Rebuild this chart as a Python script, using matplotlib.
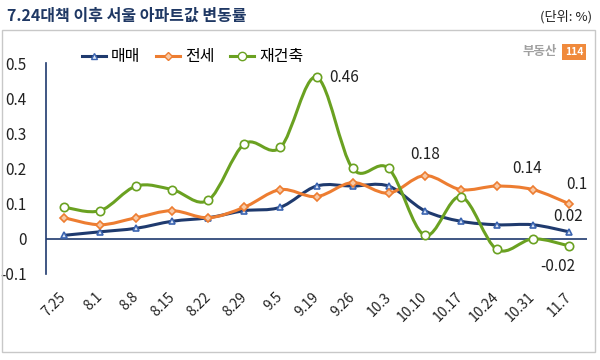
import matplotlib
matplotlib.use("Agg")
import matplotlib.pyplot as plt
import matplotlib.patches as mpatches
from matplotlib.path import Path
from matplotlib.lines import Line2D
import numpy as np

plt.rcParams['font.family'] = ['Noto Sans CJK KR', 'DejaVu Sans']

dates = ["7.25", "8.1", "8.8", "8.15", "8.22", "8.29", "9.5", "9.19", "9.26",
         "10.3", "10.10", "10.17", "10.24", "10.31", "11.7"]
sale = [0.01, 0.02, 0.03, 0.05, 0.06, 0.08, 0.09, 0.15, 0.15, 0.15, 0.08, 0.05, 0.04, 0.04, 0.02]
jeonse = [0.06, 0.04, 0.06, 0.08, 0.06, 0.09, 0.14, 0.12, 0.16, 0.13, 0.18, 0.14, 0.15, 0.14, 0.10]
rebuild = [0.09, 0.08, 0.15, 0.14, 0.11, 0.27, 0.26, 0.46, 0.20, 0.20, 0.01, 0.12, -0.03, 0.00, -0.02]
names = ["매매", "전세", "재건축"]

c_sale = "#1f3a6e"
c_jeonse = "#ed7d31"
c_rebuild = "#6aa121"


def smooth_path(xs, ys):
    # excel-like smoothed line: catmull-rom segments as cubic beziers
    p = np.column_stack([xs, ys]).astype(float)
    n = len(p)
    verts = [p[0]]
    codes = [Path.MOVETO]
    for i in range(n - 1):
        p0 = p[i - 1] if i > 0 else p[i]
        p3 = p[i + 2] if i + 2 < n else p[i + 1]
        c1 = p[i] + (p[i + 1] - p0) / 6
        c2 = p[i + 1] - (p3 - p[i]) / 6
        verts += [c1, c2, p[i + 1]]
        codes += [Path.CURVE4] * 3
    return Path(verts, codes)


fig = plt.figure(figsize=(6, 3.6), dpi=100)
ax = fig.add_axes([46 / 600, 1 - 274 / 360, 541 / 600, 211 / 360])

x = np.arange(len(dates))
series = [
    (sale, c_sale, "^", "#dde6f5", "#3b64b0", 5),
    (jeonse, c_jeonse, "D", "#f8c9a6", c_jeonse, 4.5),
    (rebuild, c_rebuild, "o", "#ffffff", c_rebuild, 6),
]
for vals, col, mk, mfc, mec, ms in series:
    ax.add_patch(mpatches.PathPatch(smooth_path(x, vals), fill=False, edgecolor=col, lw=2.2, zorder=3))
    ax.plot(x, vals, ls="none", marker=mk, ms=ms, mfc=mfc, mec=mec, mew=1.2, zorder=4)

ax.set_xlim(-0.5, len(dates) - 0.5)
ax.set_ylim(-0.1, 0.5)
ax.set_yticks([-0.1, 0, 0.1, 0.2, 0.3, 0.4, 0.5])
ax.set_yticklabels(["-0.1", "0", "0.1", "0.2", "0.3", "0.4", "0.5"])
ax.tick_params(axis="y", length=0, pad=14, labelsize=11, labelcolor="#222222")
ax.set_xticks(x)
ax.set_xticklabels(dates, rotation=45, ha="right", va="center", rotation_mode="anchor")
ax.tick_params(axis="x", length=0, pad=15, labelsize=10, labelcolor="#222222")
for s in ["top", "right", "bottom"]:
    ax.spines[s].set_visible(False)
ax.spines["left"].set_color(c_sale)
ax.spines["left"].set_linewidth(1.2)
ax.axhline(0, color=c_sale, lw=1.2, zorder=2)

labels = [
    (7, rebuild[7], "0.46", (9, 0), "left", "center"),
    (10, jeonse[10], "0.18", (0, 9), "center", "bottom"),
    (13, jeonse[13], "0.14", (-4, 9), "center", "bottom"),
    (14, jeonse[14], "0.1", (6, 8), "center", "bottom"),
    (14, sale[14], "0.02", (-1, 5), "center", "bottom"),
    (14, rebuild[14], "-0.02", (-8, -9), "center", "top"),
]
for xi, yi, txt, off, ha, va in labels:
    ax.annotate(txt, (xi, yi), xytext=off, textcoords="offset points",
                ha=ha, va=va, fontsize=11, color="#222222", zorder=5)

handles = [
    Line2D([], [], color=c_sale, lw=2.2, marker="^", ms=5, mfc="#dde6f5", mec="#3b64b0"),
    Line2D([], [], color=c_jeonse, lw=2.2, marker="D", ms=4.5, mfc="#f8c9a6", mec=c_jeonse),
    Line2D([], [], color=c_rebuild, lw=2.2, marker="o", ms=6, mfc="#ffffff", mec=c_rebuild),
]
fig.legend(handles, names, loc="center left", bbox_to_anchor=(74 / 600, 1 - 57 / 360),
           ncol=3, frameon=False, fontsize=11.5, handlelength=1.5, handletextpad=0.3,
           columnspacing=1.0, borderpad=0)

# outer frame
fig.add_artist(mpatches.Rectangle((2 / 600, 1 - 352 / 360), 593 / 600, 322 / 360,
                                  transform=fig.transFigure, fill=False,
                                  edgecolor="#c8c8c8", lw=1))

fig.text(7 / 600, 1 - 16 / 360, "7.24대책 이후 서울 아파트값 변동률", fontsize=11.5,
         fontweight="bold", color="#1f3864", ha="left", va="center")
fig.text(592 / 600, 1 - 17 / 360, "(단위: %)", fontsize=9.5, color="#222222",
         ha="right", va="center")
fig.text(557 / 600, 1 - 52 / 360, "부동산", fontsize=9, fontweight="bold", color="#a0a0a0",
         ha="right", va="center")
fig.text(574 / 600, 1 - 52 / 360, "114", fontsize=7.5, fontweight="bold", color="white",
         ha="center", va="center",
         bbox=dict(boxstyle="square,pad=0.25", fc="#f08a3c", ec="none"))

fig.savefig("out.png", dpi=100)
